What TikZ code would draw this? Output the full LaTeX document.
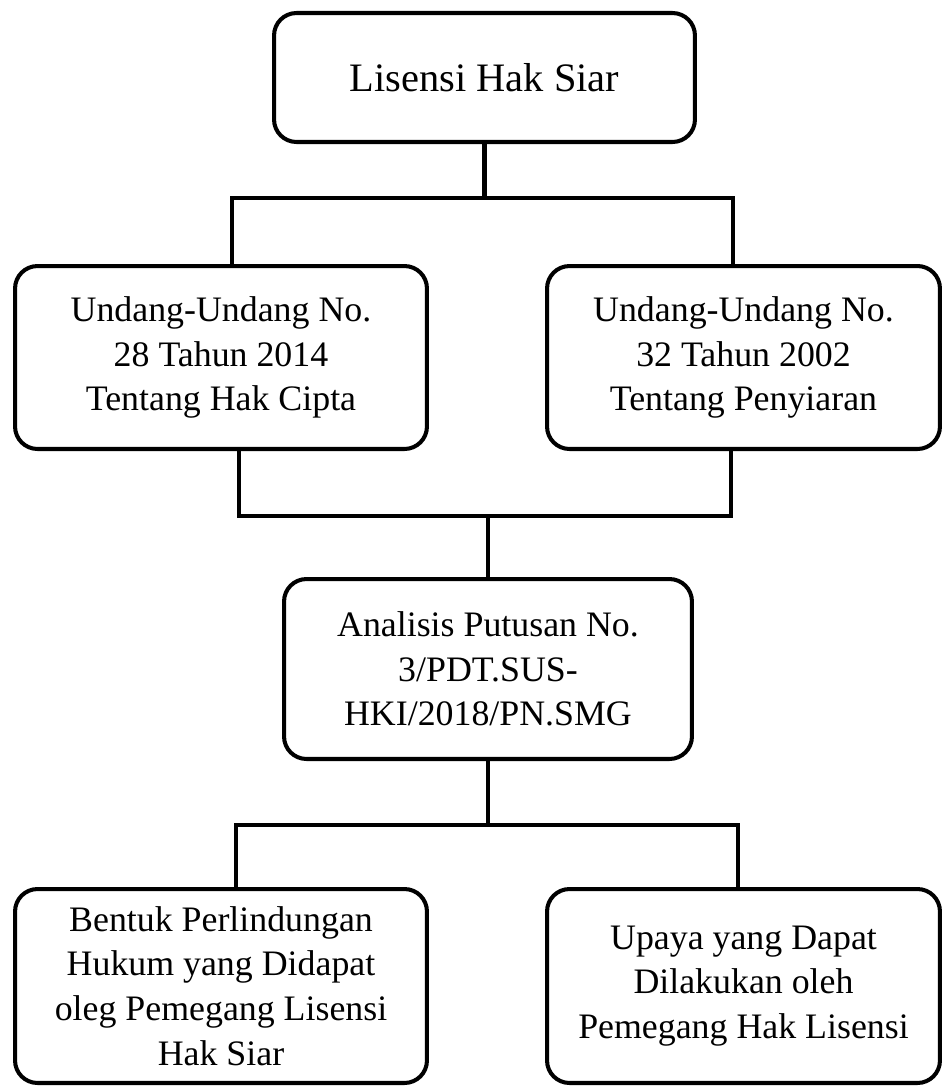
\documentclass[tikz,border=0pt]{standalone}
\usepackage{fontspec}
\setmainfont{Liberation Serif}
\usetikzlibrary{calc}

\begin{document}
\begin{tikzpicture}[x=0.02cm, y=-0.02cm,
		kotak/.style={draw, line width=2.3pt, rounded corners=0.45cm, align=center, inner sep=0pt,
			font=\fontsize{20.4}{25.5}\selectfont},
		garis/.style={line width=2.3pt, line cap=rect}]
			%%%%% START %%%%%
			\useasboundingbox (0, 0) rectangle (944, 1086);
			
			\node[kotak, minimum width=8.42cm, minimum height=2.58cm, font=\fontsize{23}{28}\selectfont] (lisensi) at (484.5, 77.5) {Lisensi Hak Siar};
			
			\node[kotak, minimum width=8.24cm, minimum height=3.66cm] (uuhc) at (221, 357.5) {Undang-Undang No.\\28 Tahun 2014\\Tentang Hak Cipta};
			\node[kotak, minimum width=7.86cm, minimum height=3.66cm] (uup) at (743.5, 357.5) {Undang-Undang No.\\32 Tahun 2002\\Tentang Penyiaran};
			
			\node[kotak, minimum width=8.16cm, minimum height=3.6cm] (putusan) at (488, 669) {Analisis Putusan No.\\3/PDT.SUS-\\HKI/2018/PN.SMG};
			
			\node[kotak, minimum width=8.24cm, minimum height=3.88cm] (bentuk) at (221, 986) {Bentuk Perlindungan\\Hukum yang Didapat\\oleg Pemegang Lisensi\\Hak Siar};
			\node[kotak, minimum width=7.86cm, minimum height=3.88cm] (upaya) at (743.5, 986) {Upaya yang Dapat\\Dilakukan oleh\\Pemegang Hak Lisensi};
			
			\coordinate (a1) at (232, 198);
			\coordinate (a2) at (733, 198);
			\draw[garis] (lisensi.south) -- (lisensi.south |- a1);
			\draw[garis] (a1) -- (a2);
			\draw[garis] (a1) -- (a1 |- uuhc.north);
			\draw[garis] (a2) -- (a2 |- uup.north);
			
			\coordinate (b1) at (239, 516);
			\coordinate (b2) at (731, 516);
			\draw[garis] (b1 |- uuhc.south) -- (b1) -- (b2) -- (b2 |- uup.south);
			\draw[garis] (putusan.north |- b1) -- (putusan.north);
			
			\coordinate (c1) at (236, 825);
			\coordinate (c2) at (738, 825);
			\draw[garis] (putusan.south) -- (putusan.south |- c1);
			\draw[garis] (c1) -- (c2);
			\draw[garis] (c1) -- (c1 |- bentuk.north);
			\draw[garis] (c2) -- (c2 |- upaya.north);
			%%%%% END %%%%%
		\end{tikzpicture}
\end{document}
